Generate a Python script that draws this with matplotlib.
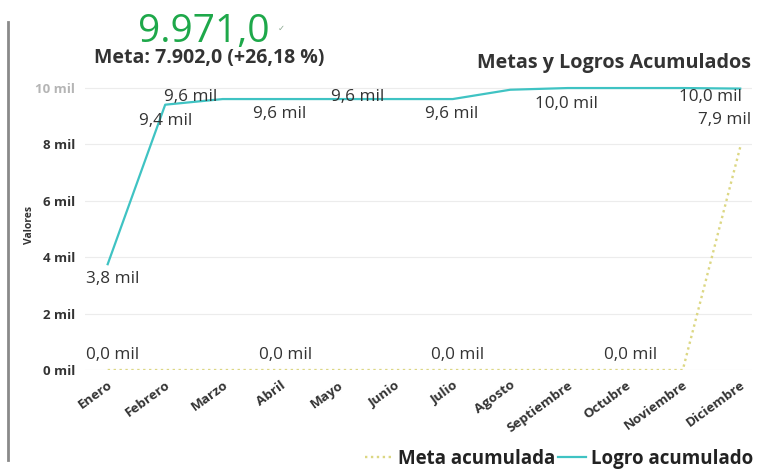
import matplotlib
matplotlib.use("Agg")
import matplotlib.pyplot as plt
from matplotlib.ticker import FuncFormatter
from matplotlib.lines import Line2D

months = ["Enero", "Febrero", "Marzo", "Abril", "Mayo", "Junio", "Julio",
          "Agosto", "Septiembre", "Octubre", "Noviembre", "Diciembre"]
logro = [3750, 9400, 9600, 9600, 9600, 9600, 9600, 9930, 9990, 9990, 9990, 9971]
meta = [0, 0, 0, 0, 0, 0, 0, 0, 0, 0, 0, 7902]
yticks = [0, 2000, 4000, 6000, 8000, 10000]

TEAL = "#3fc3c3"
YEL = "#dcd783"
GREEN = "#1ea84a"
DARK = "#333333"
FONT = ["Open Sans", "DejaVu Sans"]
plt.rcParams["font.family"] = FONT

def fmt_mil(v):
    return f"{v/1000:.1f}".replace(".", ",") + " mil"

def fmt_es(v):
    s = f"{v:,.1f}"
    return s.replace(",", "X").replace(".", ",").replace("X", ".")

fig = plt.figure(figsize=(7.63, 4.72), dpi=100)
ax = fig.add_axes([0.111, 0.216, 0.875, 0.616])
x = list(range(len(months)))

ax.plot(x, meta, color=YEL, lw=1.7, ls=(0, (1, 1.5)), zorder=3)
ax.plot(x, logro, color=TEAL, lw=1.6, zorder=4)

ax.set_xlim(-0.40, 11.21)
ax.set_ylim(0, 10300)
ax.set_yticks(yticks)
ax.yaxis.set_major_formatter(FuncFormatter(lambda v, p: f"{int(round(v/1000))} mil"))
ax.grid(axis="y", color="#ececec", lw=0.8)
ax.set_axisbelow(True)
for s in ax.spines.values():
    s.set_visible(False)
ax.tick_params(axis="both", length=0)
ax.tick_params(axis="y", pad=7)
for lab in ax.get_yticklabels():
    lab.set_fontweight("bold")
    lab.set_fontsize(9.5)
    lab.set_color(DARK)
    lab.set_family(["Liberation Sans Narrow", "Open Sans", "DejaVu Sans"])
ax.get_yticklabels()[-1].set_color("#b5b5b5")

ax.set_xticks(x)
ax.set_xticklabels(months, rotation=36, ha="right", rotation_mode="anchor",
                   fontsize=9.7, color=DARK, fontweight="bold")
ax.tick_params(axis="x", pad=6)
ax.set_ylabel("Valores", fontsize=7.5, fontweight="bold", color=DARK)
ax.yaxis.set_label_coords(-0.074, 0.5)

# data labels
def lab(i, v, dx, dy):
    ax.annotate(fmt_mil(v), (i, v), xytext=(dx, dy), textcoords="offset pixels",
                ha="center", va="center", fontsize=12.3, color=DARK, zorder=5)

for i in [0, 3, 6, 9]:
    lab(i, meta[i], 5, 15)
lab(11, meta[11], -16, 27)

logro_offsets = {0: (5, -15), 1: (0, -16), 2: (-32, 2), 3: (-1, -15),
                 5: (-38, 2), 6: (-1, -15), 8: (-1, -16), 11: (-30, -8)}
for i, (dx, dy) in logro_offsets.items():
    lab(i, logro[i], dx, dy)

# KPI header
total = logro[-1]
goal = meta[-1]
pct = (total / goal - 1) * 100
pct_txt = f"{pct:.2f}".replace(".", ",")
fig.text(0.267, 0.932, fmt_es(total), fontsize=28, color=GREEN, ha="center", va="center")
fig.text(0.368, 0.94, "✓", fontsize=6, color="#8aa88f", ha="center", va="center",
         family=["DejaVu Sans"])
fig.text(0.274, 0.877, f"Meta: {fmt_es(goal)} (+{pct_txt} %)",
         fontsize=14, fontweight="bold", color=DARK, ha="center", va="center")
fig.text(0.984, 0.866, "Metas y Logros Acumulados", fontsize=14.2, fontweight="bold",
         color=DARK, ha="right", va="center")

# left border line
fig.add_artist(Line2D([0.0105, 0.0105], [0.025, 0.953], color="#8a8a8a", lw=2))

# legend
handles = [Line2D([], [], color=YEL, lw=1.7, ls=(0, (1, 1.5))),
           Line2D([], [], color=TEAL, lw=1.6)]
leg = fig.legend(handles, ["Meta acumulada", "Logro acumulado"], loc="center right",
                 bbox_to_anchor=(1.009, 0.028), ncol=2, frameon=False,
                 handlelength=1.5, handletextpad=0.25, columnspacing=0.15,
                 prop={"weight": "bold", "size": 13.5})
for t in leg.get_texts():
    t.set_color("#222222")

fig.savefig("out.png", dpi=100, facecolor="white")
